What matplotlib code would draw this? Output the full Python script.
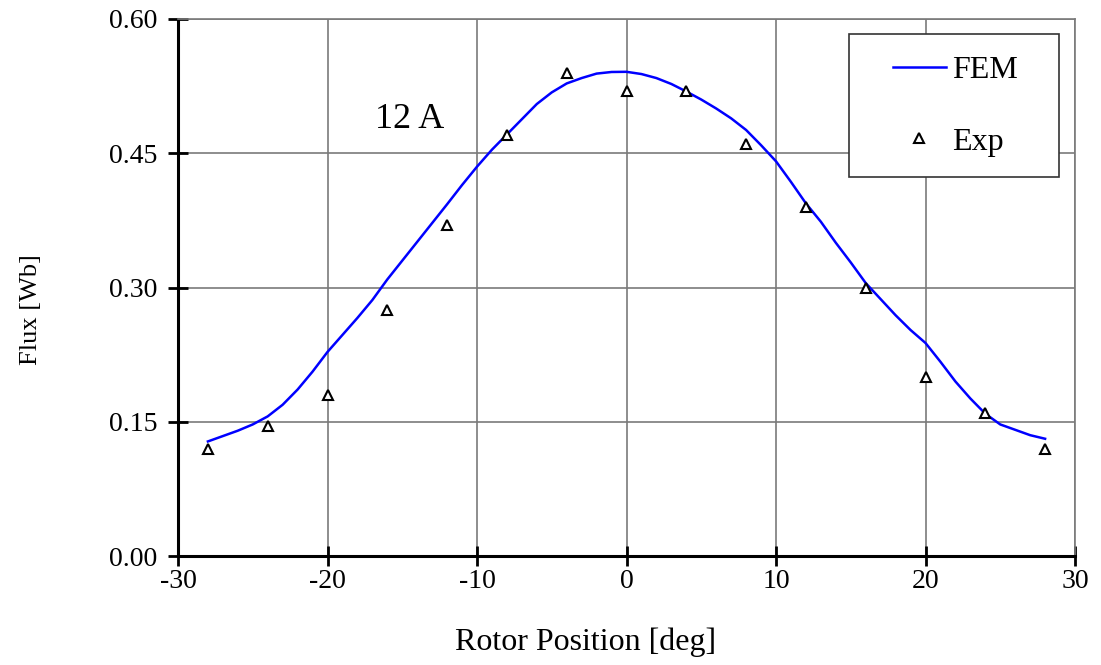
import matplotlib
matplotlib.use("Agg")
import matplotlib.pyplot as plt
import matplotlib.patches as mpatches

plt.rcParams["font.family"] = ["Liberation Serif", "DejaVu Serif"]

# FEM flux linkage vs rotor position (1 deg steps)
fem_pos = list(range(-28, 29))
fem_flux = [0.128, 0.134, 0.140, 0.147, 0.156, 0.169, 0.186, 0.206, 0.228,
            0.247, 0.266, 0.286, 0.309, 0.330, 0.351, 0.372, 0.393, 0.4145,
            0.435, 0.454, 0.471, 0.488, 0.505, 0.518, 0.528, 0.534, 0.539,
            0.5408, 0.541, 0.5385, 0.534, 0.5274, 0.519, 0.510, 0.500, 0.489,
            0.476, 0.459, 0.441, 0.418, 0.394, 0.3735, 0.350, 0.328, 0.305,
            0.287, 0.269, 0.2525, 0.238, 0.217, 0.195, 0.176, 0.159, 0.147,
            0.141, 0.135, 0.131]

# measured points
exp_pos = [-28, -24, -20, -16, -12, -8, -4, 0, 4, 8, 12, 16, 20, 24, 28]
exp_flux = [0.12, 0.145, 0.18, 0.275, 0.37, 0.47, 0.54, 0.52, 0.52, 0.46,
            0.39, 0.30, 0.20, 0.16, 0.12]

x_ticks = [-30, -20, -10, 0, 10, 20, 30]
y_ticks = [0.00, 0.15, 0.30, 0.45, 0.60]

fig = plt.figure(figsize=(11.01, 6.65), dpi=100, facecolor="white")
ax = fig.add_axes([178 / 1101, 1 - 556 / 665, 897 / 1101, 537 / 665])

ax.set_xlim(-30, 30)
ax.set_ylim(0, 0.60)
ax.set_xticks(x_ticks)
ax.set_yticks(y_ticks)
ax.set_xticklabels([f"{v:d}" for v in x_ticks])
ax.set_yticklabels([f"{v:.2f}" for v in y_ticks])
ax.grid(True, color="#7a7a7a", lw=1.2)
ax.set_axisbelow(True)

for side in ("left", "bottom"):
    ax.spines[side].set_color("black")
    ax.spines[side].set_linewidth(2.2)
for side in ("top", "right"):
    ax.spines[side].set_color("#7a7a7a")
    ax.spines[side].set_linewidth(1.2)

ax.tick_params(axis="both", direction="inout", length=14, width=2,
               labelsize=20, color="black")
ax.tick_params(axis="y", pad=8)
ax.tick_params(axis="x", pad=2)
ax.tick_params(top=False, right=False)

fem_line, = ax.plot(fem_pos, fem_flux, color="#0000ff", lw=1.8,
                    zorder=3, label="FEM")
exp_pts, = ax.plot(exp_pos, exp_flux, ls="none", marker="^", ms=7,
                   mfc="white", mec="black", mew=1.5, zorder=4, label="Exp")

ax.text(-14.5, 0.488, "12 A", fontsize=26, ha="center", va="center")

ax.set_xlabel("Rotor Position [deg]", fontsize=23)
ax.set_ylabel("Flux [Wb]", fontsize=19)
ax.xaxis.set_label_coords(0.454, -0.134)
ax.yaxis.set_label_coords(-0.152, 0.458)

# legend frame drawn separately so the box can be wider than its content
frame = mpatches.Rectangle((0.748, 0.706), 0.234, 0.266,
                           transform=ax.transAxes, facecolor="white",
                           edgecolor="#333333", lw=1.2, zorder=5)
ax.add_patch(frame)
leg = ax.legend(handles=[fem_line, exp_pts], loc="center left",
                bbox_to_anchor=(0.797, 0.838), frameon=False, fontsize=23,
                handlelength=1.66, handletextpad=0.2, labelspacing=1.33,
                borderpad=0, borderaxespad=0)
leg.set_zorder(6)

fig.savefig("out.png", dpi=100, facecolor="white")
